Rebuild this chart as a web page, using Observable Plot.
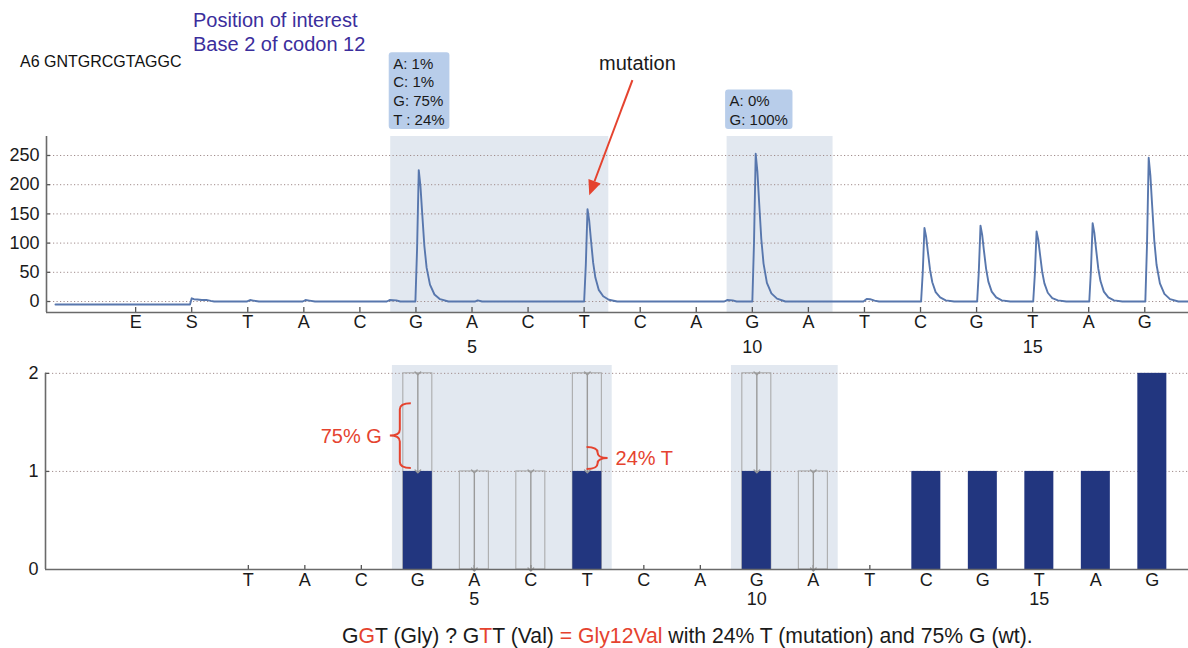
<!DOCTYPE html>
<html>
<head>
<meta charset="utf-8">
<script src="https://cdn.jsdelivr.net/npm/d3@7"></script>
<script src="https://cdn.jsdelivr.net/npm/@observablehq/plot@0.6"></script>
<style>
  body { margin: 0; background: #fff; font-family: "Liberation Sans", Arial, Helvetica, sans-serif; }
  #wrap { position: relative; width: 1188px; height: 648px; overflow: hidden; background: #fff; }
  #top, #bottom { position: absolute; left: 0; }
  #top { top: 0; }
  #bottom { top: 360px; }
  .hdr { position: absolute; white-space: nowrap; }
  #seq { left: 20px; top: 53px; font-size: 16px; color: #111; line-height: 18px; }
  #poi { left: 193px; top: 8px; font-size: 20px; color: #3b2e9c; line-height: 24px; }
  #caption { position: absolute; left: 342px; top: 624px; font-size: 21.2px; line-height: 24px; color: #1a1a1a; white-space: nowrap; }
  .red { color: #e5432f; }
</style>
</head>
<body>
<div id="wrap">
  <div id="top"></div>
  <div id="bottom"></div>
  <div class="hdr" id="seq">A6 GNTGRCGTAGGC</div>
  <div class="hdr" id="poi">Position of interest<br>Base 2 of codon 12</div>
  <div id="caption">G<span class="red">G</span>T (Gly) ? G<span class="red">T</span>T (Val) <span class="red">= Gly12Val</span> with 24% T (mutation) and 75% G (wt).</div>
</div>
<script>
const FONT = '"Liberation Sans", Arial, Helvetica, sans-serif';
const RED = "#e5432f";

// ---- data ----
const dispensation = ["E","S","T","A","C","G","A","C","T","C","A","G","A","T","C","G","T","A","G"];
const dispensationNumbers = [5, 10, 15];
const topTicks = [0, 50, 100, 150, 200, 250];
const bottomTicks = [0, 1, 2];
const regions = [[4.55, 8.44], [10.55, 12.44]];
const baseCalls = [["A: 1%", "C: 1%", "G: 75%", "T : 24%"], ["A: 0%", "G: 100%"]];
const mutationArrow = [[8.87, 378], [8.10, 181]];
const mutationLabel = "mutation";

// pyrogram trace: [dispensation position, signal]
const trace = [
  [-1.43,-5],[0.97,-5],[1.00,5.5],[1.04,4],[1.10,3.5],[1.18,2.5],[1.26,2.8],[1.34,1],[1.40,0],
  [1.98,0],[2.04,2.5],[2.10,1.5],[2.20,0],
  [2.98,0],[3.03,2.5],[3.10,1.5],[3.20,0],
  [4.48,0],[4.53,2.5],[4.65,2],[4.72,0],
  [4.99,0],[5.02,90],[5.05,225],[5.08,198],[5.11,153],[5.15,95],[5.19,58],[5.25,29],[5.33,12],[5.43,4],[5.58,0],
  [6.05,0],[6.10,2],[6.18,0],
  [8.00,0],[8.03,63],[8.06,158],[8.09,139],[8.12,107],[8.16,67],[8.20,41],[8.26,20],[8.34,9],[8.44,3],[8.59,0],
  [10.50,0],[10.55,2.5],[10.65,2],[10.72,0],
  [11.00,0],[11.03,101],[11.06,253],[11.09,223],[11.12,172],[11.16,107],[11.20,65],[11.26,32],[11.34,14],[11.44,5],[11.59,0],
  [12.98,0],[13.04,4.5],[13.10,4],[13.18,1.5],[13.26,0],
  [14.01,0],[14.04,50],[14.07,126],[14.10,111],[14.13,86],[14.17,54],[14.21,33],[14.27,16],[14.35,7],[14.45,2],[14.60,0],
  [15.01,0],[15.04,52],[15.07,130],[15.10,114],[15.13,88],[15.17,56],[15.21,34],[15.27,17],[15.35,7],[15.45,2],[15.60,0],
  [16.01,0],[16.04,48],[16.07,120],[16.10,106],[16.13,82],[16.17,51],[16.21,31],[16.27,15],[16.35,6],[16.45,2],[16.60,0],
  [17.01,0],[17.04,54],[17.07,134],[17.10,118],[17.13,91],[17.17,57],[17.21,35],[17.27,17],[17.35,7],[17.45,2],[17.60,0],
  [18.01,0],[18.04,98],[18.07,246],[18.10,216],[18.13,167],[18.17,104],[18.21,63],[18.27,31],[18.35,13],[18.45,4],[18.60,0],[18.78,0]
];

// histogram (dispensation index, observed height, expected height)
const histIndex = [2, 3, 4, 5, 6, 7, 8, 9, 10, 11, 12, 13, 14, 15, 16, 17, 18];
const observed  = [0, 0, 0, 1, 0, 0, 1, 0, 0, 1, 0, 0, 1, 1, 1, 1, 2];
const expected  = [null, null, null, 2, 1, 1, 2, null, null, 2, 1, null, null, null, null, null, null];

const braces = [
  {x: 4.69, from: 1.03, to: 1.69, side: "left", label: "75% G"},
  {x: 8.19, from: 1.02, to: 1.245, side: "right", label: "24% T"}
];

// ---- top chart ----
const topX = [-1.59, 18.78], topY = [-18.8, 282.5];
const traceData = trace.map(([x, y]) => ({x, y}));
const idx = dispensation.map((b, i) => ({i, b}));

function baseCallBoxes(index, scales) {
  const x = scales.x, y = scales.y;
  const g = d3.create("svg:g").attr("text-anchor", "start");
  const ctx = document.createElement("canvas").getContext("2d");
  ctx.font = `15px ${FONT}`;
  regions.forEach(([from], k) => {
    const lines = baseCalls[k];
    const w = Math.max(...lines.map(t => ctx.measureText(t).width)) + 9;
    const h = lines.length * 18.7 + 2;
    const left = x(from) - 1.5, bottom = y(topY[1]) - 7;
    g.append("rect").attr("x", left).attr("y", bottom - h).attr("width", w).attr("height", h)
      .attr("rx", 3).attr("fill", "#b8cdea");
    lines.forEach((t, j) => g.append("text")
      .attr("x", left + 4.5).attr("y", bottom - 9.5 - (lines.length - 1 - j) * 18.7)
      .attr("dy", "0.35em").attr("text-anchor", "start")
      .attr("font-size", 15).attr("fill", "#1a1a1a").text(t));
  });
  return g.node();
}

function mutationMark(index, scales) {
  const x = scales.x, y = scales.y;
  const [[x0, y0], [x1, y1]] = mutationArrow;
  const ax = x(x0), ay = y(y0), bx = x(x1), by = y(y1);
  const ang = Math.atan2(by - ay, bx - ax), L = 15, W = 6.5;
  const baseX = bx - L * Math.cos(ang), baseY = by - L * Math.sin(ang);
  const g = d3.create("svg:g");
  g.append("line").attr("x1", ax).attr("y1", ay).attr("x2", baseX).attr("y2", baseY)
    .attr("stroke", RED).attr("stroke-width", 2);
  g.append("path").attr("d",
    `M${bx},${by}L${baseX - W * Math.sin(ang)},${baseY + W * Math.cos(ang)}L${baseX + W * Math.sin(ang)},${baseY - W * Math.cos(ang)}Z`)
    .attr("fill", RED);
  g.append("text").attr("x", ax + 5).attr("y", ay - 17).attr("dy", "0.35em")
    .attr("text-anchor", "middle").attr("font-size", 20).attr("fill", "#1a1a1a").text(mutationLabel);
  return g.node();
}

const topPlot = Plot.plot({
  width: 1188, height: 360,
  marginTop: 136, marginBottom: 48, marginLeft: 46, marginRight: 0,
  x: {domain: topX, axis: null},
  y: {domain: topY, axis: null},
  style: {fontFamily: FONT, fontSize: "18px", color: "#1a1a1a", background: "transparent", overflow: "visible"},
  marks: [
    Plot.rect(regions, {x1: d => d[0], x2: d => d[1], y1: topY[0], y2: topY[1], fill: "#e2e8f0"}),
    Plot.ruleY(topTicks, {stroke: "#a08c8c", strokeDasharray: "1.2,2.3", strokeWidth: 1}),
    Plot.ruleY(topTicks, {x1: topX[0], x2: topX[0], insetRight: -4, stroke: "#555", strokeWidth: 1.3}),
    Plot.ruleX(idx, {x: "i", y1: topY[0], y2: topY[0], insetBottom: 5, stroke: "#555", strokeWidth: 1.3}),
    Plot.line(traceData, {x: "x", y: "y", stroke: "#5877ad", strokeWidth: 1.9}),
    Plot.ruleX([topX[0]], {stroke: "#6a6a6a", strokeWidth: 1.6}),
    Plot.ruleY([topY[0]], {stroke: "#6a6a6a", strokeWidth: 1.6}),
    Plot.text(topTicks, {x: topX[0], y: d => d, text: d => String(d), textAnchor: "end", dx: -7}),
    Plot.text(idx, {x: "i", text: "b", frameAnchor: "bottom", dy: 15}),
    Plot.text(dispensationNumbers, {x: n => n + 1, text: n => String(n), frameAnchor: "bottom", dy: 40}),
    baseCallBoxes,
    mutationMark
  ]
});
document.getElementById("top").appendChild(topPlot);

// ---- bottom chart ----
const botX = [-1.59, 18.64], botY = [0, 2.08];
const hist = histIndex.map((i, k) => ({i, letter: dispensation[i], obs: observed[k], exp: expected[k]}));
const withExp = hist.filter(d => d.exp != null);
const withObs = hist.filter(d => d.obs > 0);

function braceMark(index, scales) {
  const x = scales.x, y = scales.y;
  const g = d3.create("svg:g");
  for (const b of braces) {
    const x0 = x(b.x), yt = y(b.to), yb = y(b.from), ym = (yt + yb) / 2;
    const s = b.side === "left" ? 1 : -1;
    const hook = 11 * s, tip = -10 * s, r = Math.min(6, (yb - yt) / 4);
    const d = `M${x0 + hook},${yt}Q${x0},${yt} ${x0},${yt + r}L${x0},${ym - r}Q${x0},${ym} ${x0 + tip},${ym}` +
              `Q${x0},${ym} ${x0},${ym + r}L${x0},${yb - r}Q${x0},${yb} ${x0 + hook},${yb}`;
    g.append("path").attr("d", d).attr("fill", "none").attr("stroke", RED).attr("stroke-width", 2);
    g.append("text").attr("x", x0 + tip - 8 * s).attr("y", ym).attr("dy", "0.35em")
      .attr("text-anchor", s > 0 ? "end" : "start").attr("font-size", 20).attr("fill", RED).text(b.label);
  }
  return g.node();
}

const botPlot = Plot.plot({
  width: 1188, height: 255,
  marginTop: 5, marginBottom: 46, marginLeft: 45, marginRight: 0,
  x: {domain: botX, axis: null},
  y: {domain: botY, axis: null},
  style: {fontFamily: FONT, fontSize: "18px", color: "#1a1a1a", background: "transparent", overflow: "visible"},
  marks: [
    Plot.rect(regions, {x1: d => d[0], x2: d => d[1], y1: 0, y2: botY[1], fill: "#e2e8f0"}),
    Plot.ruleY([1, 2], {stroke: "#a08c8c", strokeDasharray: "1.2,2.3", strokeWidth: 1}),
    Plot.ruleY([1, 2], {x1: botX[0], x2: botX[0], insetRight: -4, stroke: "#555", strokeWidth: 1.3}),
    Plot.ruleX(hist, {x: "i", y1: 0, y2: 0, insetBottom: 4, stroke: "#555", strokeWidth: 1.3}),
    Plot.rect(withExp, {x1: d => d.i - 0.5, x2: d => d.i + 0.5, y1: 0, y2: "exp",
      insetLeft: 13.75, insetRight: 13.75, fill: "none", stroke: "#a5a5a5", strokeWidth: 1}),
    Plot.rect(withObs, {x1: d => d.i - 0.5, x2: d => d.i + 0.5, y1: 0, y2: "obs",
      insetLeft: 13.75, insetRight: 13.75, fill: "#22367f"}),
    Plot.link(withExp, {x1: "i", x2: "i", y1: "exp", y2: "obs", stroke: "#9a9a9a", strokeWidth: 1.4,
      markerStart: "arrow", markerEnd: "arrow"}),
    Plot.ruleX([botX[0]], {y1: 0, y2: 2, stroke: "#6a6a6a", strokeWidth: 1.6}),
    Plot.ruleY([0], {stroke: "#6a6a6a", strokeWidth: 1.6}),
    Plot.text(bottomTicks, {x: botX[0], y: d => d, text: d => String(d), textAnchor: "end", dx: -7}),
    Plot.text(hist, {x: "i", text: "letter", frameAnchor: "bottom", dy: 16}),
    Plot.text(dispensationNumbers, {x: n => n + 1, text: n => String(n), frameAnchor: "bottom", dy: 35}),
    braceMark
  ]
});
document.getElementById("bottom").appendChild(botPlot);
</script>
</body>
</html>
